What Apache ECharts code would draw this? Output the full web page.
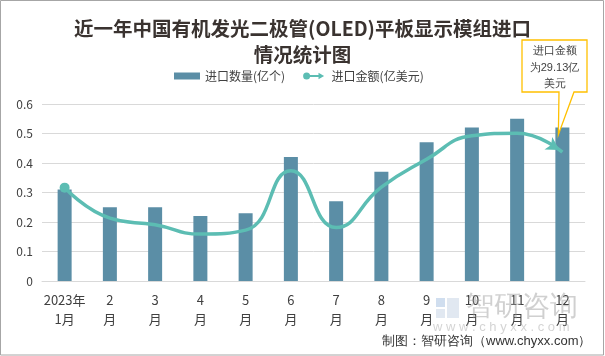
<!DOCTYPE html>
<html><head><meta charset="utf-8">
<script src="https://cdn.jsdelivr.net/npm/echarts@6/dist/echarts.min.js"></script>
<style>html,body{margin:0;padding:0;background:#fff}#c{width:605px;height:356px;}</style>
</head><body><div id="c"></div>
<script>
const categories = ["2023年\n1月","2\n月","3\n月","4\n月","5\n月","6\n月","7\n月","8\n月","9\n月","10\n月","11\n月","12\n月"];
const quantity = [0.31, 0.25, 0.25, 0.22, 0.23, 0.42, 0.27, 0.37, 0.47, 0.52, 0.55, 0.52];   // 进口数量(亿个)
const amount = [21.1, 14.2, 12.7, 10.6, 11.5, 24.9, 12.1, 21.2, 27.5, 32.8, 33.4, 29.13];     // 进口金额(亿美元)
const yTicks = [0, 0.1, 0.2, 0.3, 0.4, 0.5, 0.6];
const calloutLines = ["进口金额", "为29.13亿", "美元"];

const FONT = '"Noto Sans CJK SC","Noto Sans",sans-serif';
const barColor = '#5b8ea6';
const lineColor = '#5cbdb3';
const last = amount.length - 1;
const lineData = amount.map((v, i) => {
  if (i === 0) return {value: v, symbol: 'circle', symbolSize: 10};
  if (i === last) return {value: v, symbol: 'arrow', symbolSize: [11, 13], symbolRotate: -122, symbolOffset: [-3, -2]};
  return {value: v, symbol: 'none'};
});

const chart = echarts.init(document.getElementById('c'), null, {renderer: 'canvas'});
chart.setOption({
  animation: false,
  backgroundColor: '#fff',
  textStyle: {fontFamily: FONT},
  title: {
    text: '近一年中国有机发光二极管(OLED)平板显示模组进口\n情况统计图',
    left: 'center', top: 11,
    textStyle: {fontFamily: FONT, fontSize: 19.5, fontWeight: 'bold', color: '#3a3330', lineHeight: 26}
  },
  legend: {
    top: 70, left: 174, itemGap: 18, padding: 0,
    textStyle: {fontFamily: FONT, fontSize: 12, color: '#404040'},
    data: [
      {name: '进口数量(亿个)', icon: 'rect', itemStyle: {color: barColor}},
      {name: '进口金额(亿美元)', icon: 'path://M0,5A5,5 0 1,1 10,5A5,5 0 1,1 0,5ZM9,3.6L22,3.6L22,0.5L30,5L22,9.5L22,6.4L9,6.4Z', itemStyle: {color: lineColor}}
    ],
    itemWidth: 26, itemHeight: 7
  },
  grid: {left: 42, right: 20, top: 104, bottom: 75, containLabel: false},
  xAxis: {
    type: 'category', data: categories,
    axisLine: {lineStyle: {color: '#d9d9d9', width: 1}},
    axisTick: {show: false},
    axisLabel: {interval: 0, fontSize: 13, lineHeight: 19, color: '#404040', margin: 10, fontFamily: FONT}
  },
  yAxis: [{
    type: 'value', min: yTicks[0], max: yTicks[yTicks.length - 1], interval: 0.1,
    axisLine: {show: false}, axisTick: {show: false},
    splitLine: {lineStyle: {color: '#d9d9d9', width: 1}},
    axisLabel: {fontSize: 12, color: '#404040', margin: 9, fontFamily: FONT}
  }, {
    type: 'value', min: 0, max: 40, show: false, splitLine: {show: false}
  }],
  series: [{
    name: '进口数量(亿个)', type: 'bar', data: quantity, barWidth: 14,
    itemStyle: {color: barColor}
  }, {
    name: '进口金额(亿美元)', type: 'line', yAxisIndex: 1, data: lineData,
    smooth: 0.5, showAllSymbol: true,
    lineStyle: {color: lineColor, width: 3.5},
    itemStyle: {color: lineColor}
  }]
});

const tip = chart.convertToPixel({seriesIndex: 0}, [last, quantity[last]]);
const tx = tip[0] - 4, ty = tip[1] + 7;
const bx0 = 522, bx1 = 587, by0 = 40, by1 = 92;
const l1 = 559, l2 = 574;
const graphics = [
  {type: 'polygon', silent: true, z: 100,
   shape: {points: [[l1, by1], [bx0, by1], [bx0, by0], [bx1, by0], [bx1, by1], [l2, by1], [tx, ty]]},
   style: {fill: '#fff', stroke: '#ffc000', lineWidth: 1.3}},
  {type: 'text', silent: true, z: 101, left: (bx0 + bx1) / 2 - 30, top: 43,
   style: {text: calloutLines.join('\n'), width: 60, align: 'center', x: 0, fontSize: 11, lineHeight: 16.5, fill: '#404040', font: '11px ' + FONT, textAlign: 'center'}},
  // watermark
  {type: 'rect', silent: true, z: 50, shape: {x: 436, y: 298, width: 9, height: 9}, style: {fill: 'rgba(120,160,210,0.35)'}},
  {type: 'rect', silent: true, z: 50, shape: {x: 447, y: 298, width: 12, height: 20}, style: {fill: 'rgba(170,190,215,0.35)'}},
  {type: 'rect', silent: true, z: 50, shape: {x: 436, y: 309, width: 9, height: 9}, style: {fill: 'rgba(170,190,215,0.35)'}},
  {type: 'text', silent: true, z: 50, left: 466, top: 293,
   style: {text: '智研咨询', fontSize: 28, fill: 'rgba(150,150,150,0.45)', font: '28px ' + FONT}},
  {type: 'text', silent: true, z: 50, left: 433, top: 321,
   style: {text: 'w w w . c h y x x . c o m', fontSize: 13, fill: 'rgba(160,160,160,0.45)', font: '13px "DejaVu Sans",sans-serif'}},
  {type: 'text', silent: true, z: 60, left: 382, top: 335,
   style: {text: '制图：智研咨询（www.chyxx.com）', fontSize: 13, fill: '#333', font: '13px "Noto Sans CJK SC",serif'}},
  {type: 'rect', silent: true, z: 200, shape: {x: 0.5, y: 0.5, width: 603, height: 354.5},
   style: {fill: 'none', stroke: '#a6a6a6', lineWidth: 1}}
];
chart.setOption({graphic: graphics});
</script></body></html>
